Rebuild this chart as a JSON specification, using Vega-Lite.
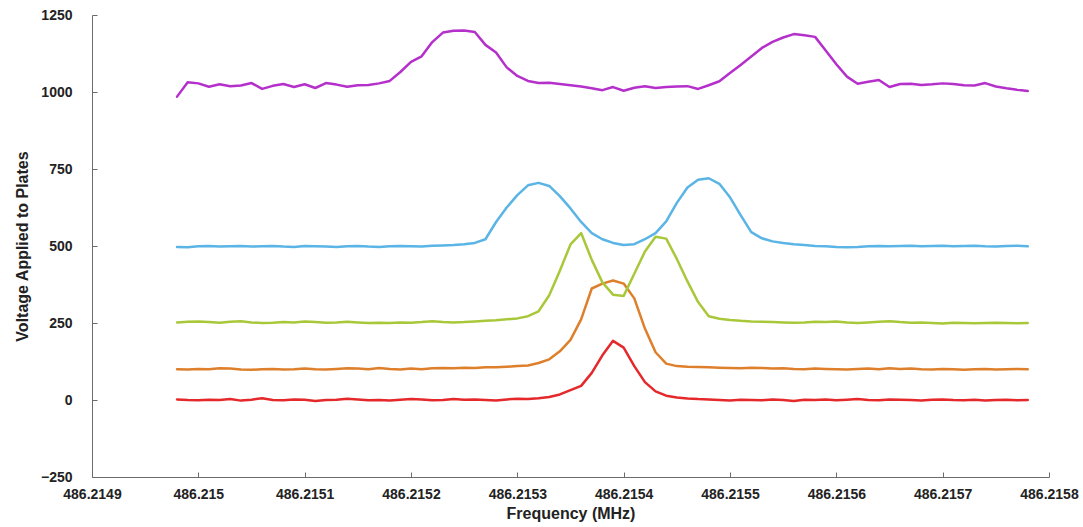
{
"$schema":"https://vega.github.io/schema/vega-lite/v6.json",
"width":957,"height":462,
"autosize":"none",
"padding":{"left":92,"top":15,"right":34,"bottom":50},
"background":"white",
"config":{"view":{"stroke":null},"axis":{"grid":false,"domainColor":"#6b6b6b","tickColor":"#6b6b6b","tickSize":-5,"labelFont":"Liberation Sans","labelFontWeight":"bold","labelFontSize":14,"labelColor":"#222222","titleFont":"Liberation Sans","titleFontWeight":"bold","titleFontSize":16,"titleColor":"#222222","labelOverlap":false,"labelFlush":false}},
"data":{"values":[
{"f":486.21498,"s":"red","v":2},{"f":486.21499,"s":"red","v":0},{"f":486.215,"s":"red","v":-1},{"f":486.21501,"s":"red","v":1},{"f":486.21502,"s":"red","v":0},{"f":486.21503,"s":"red","v":3},{"f":486.21504,"s":"red","v":-2},{"f":486.21505,"s":"red","v":1},{"f":486.21506,"s":"red","v":6},{"f":486.21507,"s":"red","v":0},
{"f":486.21508,"s":"red","v":-1},{"f":486.21509,"s":"red","v":2},{"f":486.2151,"s":"red","v":1},{"f":486.21511,"s":"red","v":-3},{"f":486.21512,"s":"red","v":0},{"f":486.21513,"s":"red","v":1},{"f":486.21514,"s":"red","v":4},{"f":486.21515,"s":"red","v":2},{"f":486.21516,"s":"red","v":-1},{"f":486.21517,"s":"red","v":0},
{"f":486.21518,"s":"red","v":-2},{"f":486.21519,"s":"red","v":1},{"f":486.2152,"s":"red","v":3},{"f":486.21521,"s":"red","v":2},{"f":486.21522,"s":"red","v":-1},{"f":486.21523,"s":"red","v":0},{"f":486.21524,"s":"red","v":3},{"f":486.21525,"s":"red","v":1},{"f":486.21526,"s":"red","v":2},{"f":486.21527,"s":"red","v":0},
{"f":486.21528,"s":"red","v":-2},{"f":486.21529,"s":"red","v":2},{"f":486.2153,"s":"red","v":4},{"f":486.21531,"s":"red","v":3},{"f":486.21532,"s":"red","v":6},{"f":486.21533,"s":"red","v":10},{"f":486.21534,"s":"red","v":18},{"f":486.21535,"s":"red","v":32},{"f":486.21536,"s":"red","v":46},{"f":486.21537,"s":"red","v":88},
{"f":486.21538,"s":"red","v":145},{"f":486.21539,"s":"red","v":192},{"f":486.2154,"s":"red","v":170},{"f":486.21541,"s":"red","v":110},{"f":486.21542,"s":"red","v":58},{"f":486.21543,"s":"red","v":28},{"f":486.21544,"s":"red","v":14},{"f":486.21545,"s":"red","v":8},{"f":486.21546,"s":"red","v":5},{"f":486.21547,"s":"red","v":3},
{"f":486.21548,"s":"red","v":2},{"f":486.21549,"s":"red","v":0},{"f":486.2155,"s":"red","v":-2},{"f":486.21551,"s":"red","v":1},{"f":486.21552,"s":"red","v":0},{"f":486.21553,"s":"red","v":-1},{"f":486.21554,"s":"red","v":2},{"f":486.21555,"s":"red","v":0},{"f":486.21556,"s":"red","v":-3},{"f":486.21557,"s":"red","v":1},
{"f":486.21558,"s":"red","v":0},{"f":486.21559,"s":"red","v":2},{"f":486.2156,"s":"red","v":-1},{"f":486.21561,"s":"red","v":1},{"f":486.21562,"s":"red","v":3},{"f":486.21563,"s":"red","v":0},{"f":486.21564,"s":"red","v":-1},{"f":486.21565,"s":"red","v":2},{"f":486.21566,"s":"red","v":1},{"f":486.21567,"s":"red","v":0},
{"f":486.21568,"s":"red","v":-2},{"f":486.21569,"s":"red","v":1},{"f":486.2157,"s":"red","v":2},{"f":486.21571,"s":"red","v":0},{"f":486.21572,"s":"red","v":-1},{"f":486.21573,"s":"red","v":1},{"f":486.21574,"s":"red","v":-2},{"f":486.21575,"s":"red","v":0},{"f":486.21576,"s":"red","v":1},{"f":486.21577,"s":"red","v":-1},
{"f":486.21578,"s":"red","v":0},
{"f":486.21498,"s":"orange","v":100},{"f":486.21499,"s":"orange","v":99},{"f":486.215,"s":"orange","v":101},{"f":486.21501,"s":"orange","v":100},{"f":486.21502,"s":"orange","v":103},{"f":486.21503,"s":"orange","v":102},{"f":486.21504,"s":"orange","v":99},{"f":486.21505,"s":"orange","v":98},{"f":486.21506,"s":"orange","v":100},{"f":486.21507,"s":"orange","v":101},
{"f":486.21508,"s":"orange","v":99},{"f":486.21509,"s":"orange","v":100},{"f":486.2151,"s":"orange","v":102},{"f":486.21511,"s":"orange","v":100},{"f":486.21512,"s":"orange","v":99},{"f":486.21513,"s":"orange","v":101},{"f":486.21514,"s":"orange","v":103},{"f":486.21515,"s":"orange","v":102},{"f":486.21516,"s":"orange","v":100},{"f":486.21517,"s":"orange","v":104},
{"f":486.21518,"s":"orange","v":101},{"f":486.21519,"s":"orange","v":99},{"f":486.2152,"s":"orange","v":102},{"f":486.21521,"s":"orange","v":100},{"f":486.21522,"s":"orange","v":103},{"f":486.21523,"s":"orange","v":104},{"f":486.21524,"s":"orange","v":103},{"f":486.21525,"s":"orange","v":105},{"f":486.21526,"s":"orange","v":104},{"f":486.21527,"s":"orange","v":106},
{"f":486.21528,"s":"orange","v":106},{"f":486.21529,"s":"orange","v":108},{"f":486.2153,"s":"orange","v":110},{"f":486.21531,"s":"orange","v":112},{"f":486.21532,"s":"orange","v":120},{"f":486.21533,"s":"orange","v":132},{"f":486.21534,"s":"orange","v":158},{"f":486.21535,"s":"orange","v":195},{"f":486.21536,"s":"orange","v":262},{"f":486.21537,"s":"orange","v":362},
{"f":486.21538,"s":"orange","v":378},{"f":486.21539,"s":"orange","v":388},{"f":486.2154,"s":"orange","v":378},{"f":486.21541,"s":"orange","v":330},{"f":486.21542,"s":"orange","v":232},{"f":486.21543,"s":"orange","v":155},{"f":486.21544,"s":"orange","v":118},{"f":486.21545,"s":"orange","v":110},{"f":486.21546,"s":"orange","v":108},{"f":486.21547,"s":"orange","v":107},
{"f":486.21548,"s":"orange","v":106},{"f":486.21549,"s":"orange","v":105},{"f":486.2155,"s":"orange","v":104},{"f":486.21551,"s":"orange","v":103},{"f":486.21552,"s":"orange","v":105},{"f":486.21553,"s":"orange","v":104},{"f":486.21554,"s":"orange","v":102},{"f":486.21555,"s":"orange","v":103},{"f":486.21556,"s":"orange","v":101},{"f":486.21557,"s":"orange","v":100},
{"f":486.21558,"s":"orange","v":102},{"f":486.21559,"s":"orange","v":101},{"f":486.2156,"s":"orange","v":100},{"f":486.21561,"s":"orange","v":99},{"f":486.21562,"s":"orange","v":101},{"f":486.21563,"s":"orange","v":102},{"f":486.21564,"s":"orange","v":100},{"f":486.21565,"s":"orange","v":103},{"f":486.21566,"s":"orange","v":101},{"f":486.21567,"s":"orange","v":102},
{"f":486.21568,"s":"orange","v":100},{"f":486.21569,"s":"orange","v":99},{"f":486.2157,"s":"orange","v":101},{"f":486.21571,"s":"orange","v":100},{"f":486.21572,"s":"orange","v":98},{"f":486.21573,"s":"orange","v":100},{"f":486.21574,"s":"orange","v":101},{"f":486.21575,"s":"orange","v":99},{"f":486.21576,"s":"orange","v":100},{"f":486.21577,"s":"orange","v":101},
{"f":486.21578,"s":"orange","v":100},
{"f":486.21498,"s":"yellow","v":252},{"f":486.21499,"s":"yellow","v":254},{"f":486.215,"s":"yellow","v":255},{"f":486.21501,"s":"yellow","v":253},{"f":486.21502,"s":"yellow","v":251},{"f":486.21503,"s":"yellow","v":254},{"f":486.21504,"s":"yellow","v":256},{"f":486.21505,"s":"yellow","v":252},{"f":486.21506,"s":"yellow","v":250},{"f":486.21507,"s":"yellow","v":251},
{"f":486.21508,"s":"yellow","v":253},{"f":486.21509,"s":"yellow","v":252},{"f":486.2151,"s":"yellow","v":255},{"f":486.21511,"s":"yellow","v":253},{"f":486.21512,"s":"yellow","v":251},{"f":486.21513,"s":"yellow","v":252},{"f":486.21514,"s":"yellow","v":254},{"f":486.21515,"s":"yellow","v":252},{"f":486.21516,"s":"yellow","v":250},{"f":486.21517,"s":"yellow","v":251},
{"f":486.21518,"s":"yellow","v":250},{"f":486.21519,"s":"yellow","v":252},{"f":486.2152,"s":"yellow","v":251},{"f":486.21521,"s":"yellow","v":253},{"f":486.21522,"s":"yellow","v":256},{"f":486.21523,"s":"yellow","v":253},{"f":486.21524,"s":"yellow","v":252},{"f":486.21525,"s":"yellow","v":253},{"f":486.21526,"s":"yellow","v":255},{"f":486.21527,"s":"yellow","v":257},
{"f":486.21528,"s":"yellow","v":259},{"f":486.21529,"s":"yellow","v":262},{"f":486.2153,"s":"yellow","v":265},{"f":486.21531,"s":"yellow","v":272},{"f":486.21532,"s":"yellow","v":288},{"f":486.21533,"s":"yellow","v":340},{"f":486.21534,"s":"yellow","v":420},{"f":486.21535,"s":"yellow","v":505},{"f":486.21536,"s":"yellow","v":542},{"f":486.21537,"s":"yellow","v":455},
{"f":486.21538,"s":"yellow","v":382},{"f":486.21539,"s":"yellow","v":342},{"f":486.2154,"s":"yellow","v":338},{"f":486.21541,"s":"yellow","v":410},{"f":486.21542,"s":"yellow","v":482},{"f":486.21543,"s":"yellow","v":530},{"f":486.21544,"s":"yellow","v":524},{"f":486.21545,"s":"yellow","v":458},{"f":486.21546,"s":"yellow","v":385},{"f":486.21547,"s":"yellow","v":318},
{"f":486.21548,"s":"yellow","v":272},{"f":486.21549,"s":"yellow","v":264},{"f":486.2155,"s":"yellow","v":260},{"f":486.21551,"s":"yellow","v":257},{"f":486.21552,"s":"yellow","v":255},{"f":486.21553,"s":"yellow","v":254},{"f":486.21554,"s":"yellow","v":253},{"f":486.21555,"s":"yellow","v":252},{"f":486.21556,"s":"yellow","v":251},{"f":486.21557,"s":"yellow","v":252},
{"f":486.21558,"s":"yellow","v":254},{"f":486.21559,"s":"yellow","v":253},{"f":486.2156,"s":"yellow","v":255},{"f":486.21561,"s":"yellow","v":252},{"f":486.21562,"s":"yellow","v":250},{"f":486.21563,"s":"yellow","v":252},{"f":486.21564,"s":"yellow","v":254},{"f":486.21565,"s":"yellow","v":256},{"f":486.21566,"s":"yellow","v":253},{"f":486.21567,"s":"yellow","v":251},
{"f":486.21568,"s":"yellow","v":252},{"f":486.21569,"s":"yellow","v":250},{"f":486.2157,"s":"yellow","v":248},{"f":486.21571,"s":"yellow","v":251},{"f":486.21572,"s":"yellow","v":250},{"f":486.21573,"s":"yellow","v":249},{"f":486.21574,"s":"yellow","v":250},{"f":486.21575,"s":"yellow","v":251},{"f":486.21576,"s":"yellow","v":250},{"f":486.21577,"s":"yellow","v":249},
{"f":486.21578,"s":"yellow","v":250},
{"f":486.21498,"s":"blue","v":497},{"f":486.21499,"s":"blue","v":496},{"f":486.215,"s":"blue","v":499},{"f":486.21501,"s":"blue","v":500},{"f":486.21502,"s":"blue","v":498},{"f":486.21503,"s":"blue","v":499},{"f":486.21504,"s":"blue","v":500},{"f":486.21505,"s":"blue","v":498},{"f":486.21506,"s":"blue","v":499},{"f":486.21507,"s":"blue","v":500},
{"f":486.21508,"s":"blue","v":498},{"f":486.21509,"s":"blue","v":497},{"f":486.2151,"s":"blue","v":500},{"f":486.21511,"s":"blue","v":499},{"f":486.21512,"s":"blue","v":498},{"f":486.21513,"s":"blue","v":497},{"f":486.21514,"s":"blue","v":499},{"f":486.21515,"s":"blue","v":500},{"f":486.21516,"s":"blue","v":498},{"f":486.21517,"s":"blue","v":497},
{"f":486.21518,"s":"blue","v":499},{"f":486.21519,"s":"blue","v":500},{"f":486.2152,"s":"blue","v":499},{"f":486.21521,"s":"blue","v":498},{"f":486.21522,"s":"blue","v":501},{"f":486.21523,"s":"blue","v":502},{"f":486.21524,"s":"blue","v":503},{"f":486.21525,"s":"blue","v":506},{"f":486.21526,"s":"blue","v":510},{"f":486.21527,"s":"blue","v":522},
{"f":486.21528,"s":"blue","v":578},{"f":486.21529,"s":"blue","v":625},{"f":486.2153,"s":"blue","v":665},{"f":486.21531,"s":"blue","v":697},{"f":486.21532,"s":"blue","v":705},{"f":486.21533,"s":"blue","v":695},{"f":486.21534,"s":"blue","v":662},{"f":486.21535,"s":"blue","v":622},{"f":486.21536,"s":"blue","v":578},{"f":486.21537,"s":"blue","v":542},
{"f":486.21538,"s":"blue","v":522},{"f":486.21539,"s":"blue","v":510},{"f":486.2154,"s":"blue","v":503},{"f":486.21541,"s":"blue","v":506},{"f":486.21542,"s":"blue","v":522},{"f":486.21543,"s":"blue","v":542},{"f":486.21544,"s":"blue","v":580},{"f":486.21545,"s":"blue","v":640},{"f":486.21546,"s":"blue","v":690},{"f":486.21547,"s":"blue","v":715},
{"f":486.21548,"s":"blue","v":720},{"f":486.21549,"s":"blue","v":702},{"f":486.2155,"s":"blue","v":658},{"f":486.21551,"s":"blue","v":600},{"f":486.21552,"s":"blue","v":545},{"f":486.21553,"s":"blue","v":525},{"f":486.21554,"s":"blue","v":515},{"f":486.21555,"s":"blue","v":510},{"f":486.21556,"s":"blue","v":506},{"f":486.21557,"s":"blue","v":503},
{"f":486.21558,"s":"blue","v":500},{"f":486.21559,"s":"blue","v":499},{"f":486.2156,"s":"blue","v":497},{"f":486.21561,"s":"blue","v":496},{"f":486.21562,"s":"blue","v":497},{"f":486.21563,"s":"blue","v":499},{"f":486.21564,"s":"blue","v":500},{"f":486.21565,"s":"blue","v":499},{"f":486.21566,"s":"blue","v":500},{"f":486.21567,"s":"blue","v":501},
{"f":486.21568,"s":"blue","v":499},{"f":486.21569,"s":"blue","v":500},{"f":486.2157,"s":"blue","v":501},{"f":486.21571,"s":"blue","v":499},{"f":486.21572,"s":"blue","v":500},{"f":486.21573,"s":"blue","v":501},{"f":486.21574,"s":"blue","v":499},{"f":486.21575,"s":"blue","v":498},{"f":486.21576,"s":"blue","v":500},{"f":486.21577,"s":"blue","v":501},
{"f":486.21578,"s":"blue","v":499},
{"f":486.21498,"s":"purple","v":985},{"f":486.21499,"s":"purple","v":1032},{"f":486.215,"s":"purple","v":1028},{"f":486.21501,"s":"purple","v":1017},{"f":486.21502,"s":"purple","v":1025},{"f":486.21503,"s":"purple","v":1019},{"f":486.21504,"s":"purple","v":1021},{"f":486.21505,"s":"purple","v":1029},{"f":486.21506,"s":"purple","v":1010},{"f":486.21507,"s":"purple","v":1020},
{"f":486.21508,"s":"purple","v":1026},{"f":486.21509,"s":"purple","v":1016},{"f":486.2151,"s":"purple","v":1025},{"f":486.21511,"s":"purple","v":1013},{"f":486.21512,"s":"purple","v":1029},{"f":486.21513,"s":"purple","v":1024},{"f":486.21514,"s":"purple","v":1017},{"f":486.21515,"s":"purple","v":1022},{"f":486.21516,"s":"purple","v":1023},{"f":486.21517,"s":"purple","v":1028},
{"f":486.21518,"s":"purple","v":1036},{"f":486.21519,"s":"purple","v":1065},{"f":486.2152,"s":"purple","v":1098},{"f":486.21521,"s":"purple","v":1116},{"f":486.21522,"s":"purple","v":1162},{"f":486.21523,"s":"purple","v":1193},{"f":486.21524,"s":"purple","v":1199},{"f":486.21525,"s":"purple","v":1200},{"f":486.21526,"s":"purple","v":1195},{"f":486.21527,"s":"purple","v":1153},
{"f":486.21528,"s":"purple","v":1128},{"f":486.21529,"s":"purple","v":1080},{"f":486.2153,"s":"purple","v":1052},{"f":486.21531,"s":"purple","v":1036},{"f":486.21532,"s":"purple","v":1029},{"f":486.21533,"s":"purple","v":1030},{"f":486.21534,"s":"purple","v":1026},{"f":486.21535,"s":"purple","v":1022},{"f":486.21536,"s":"purple","v":1018},{"f":486.21537,"s":"purple","v":1012},
{"f":486.21538,"s":"purple","v":1006},{"f":486.21539,"s":"purple","v":1016},{"f":486.2154,"s":"purple","v":1004},{"f":486.21541,"s":"purple","v":1014},{"f":486.21542,"s":"purple","v":1019},{"f":486.21543,"s":"purple","v":1013},{"f":486.21544,"s":"purple","v":1016},{"f":486.21545,"s":"purple","v":1018},{"f":486.21546,"s":"purple","v":1019},{"f":486.21547,"s":"purple","v":1010},
{"f":486.21548,"s":"purple","v":1022},{"f":486.21549,"s":"purple","v":1035},{"f":486.2155,"s":"purple","v":1062},{"f":486.21551,"s":"purple","v":1088},{"f":486.21552,"s":"purple","v":1115},{"f":486.21553,"s":"purple","v":1143},{"f":486.21554,"s":"purple","v":1163},{"f":486.21555,"s":"purple","v":1177},{"f":486.21556,"s":"purple","v":1188},{"f":486.21557,"s":"purple","v":1184},
{"f":486.21558,"s":"purple","v":1179},{"f":486.21559,"s":"purple","v":1135},{"f":486.2156,"s":"purple","v":1090},{"f":486.21561,"s":"purple","v":1050},{"f":486.21562,"s":"purple","v":1027},{"f":486.21563,"s":"purple","v":1033},{"f":486.21564,"s":"purple","v":1039},{"f":486.21565,"s":"purple","v":1016},{"f":486.21566,"s":"purple","v":1026},{"f":486.21567,"s":"purple","v":1027},
{"f":486.21568,"s":"purple","v":1023},{"f":486.21569,"s":"purple","v":1025},{"f":486.2157,"s":"purple","v":1028},{"f":486.21571,"s":"purple","v":1026},{"f":486.21572,"s":"purple","v":1022},{"f":486.21573,"s":"purple","v":1021},{"f":486.21574,"s":"purple","v":1029},{"f":486.21575,"s":"purple","v":1018},{"f":486.21576,"s":"purple","v":1012},{"f":486.21577,"s":"purple","v":1007},
{"f":486.21578,"s":"purple","v":1003}
]},
"mark":{"type":"line","strokeWidth":2.5,"strokeJoin":"round","strokeCap":"round"},
"encoding":{
"x":{"field":"f","type":"quantitative","scale":{"domain":[486.2149,486.2158],"nice":false,"zero":false},"axis":{"values":[486.2149,486.215,486.2151,486.2152,486.2153,486.2154,486.2155,486.2156,486.2157,486.2158],"format":".7~r","title":"Frequency (MHz)","labelPadding":15,"titlePadding":4}},
"y":{"field":"v","type":"quantitative","scale":{"domain":[-250,1250],"nice":false,"zero":false},"axis":{"values":[-250,0,250,500,750,1000,1250],"format":"d","title":"Voltage Applied to Plates","labelPadding":25,"titlePadding":10}},
"color":{"field":"s","type":"nominal","scale":{"domain":["purple","blue","yellow","orange","red"],"range":["#B52FCB","#5AB4E5","#A8C83A","#DE7F2B","#E5282A"]},"legend":null}
}
}
